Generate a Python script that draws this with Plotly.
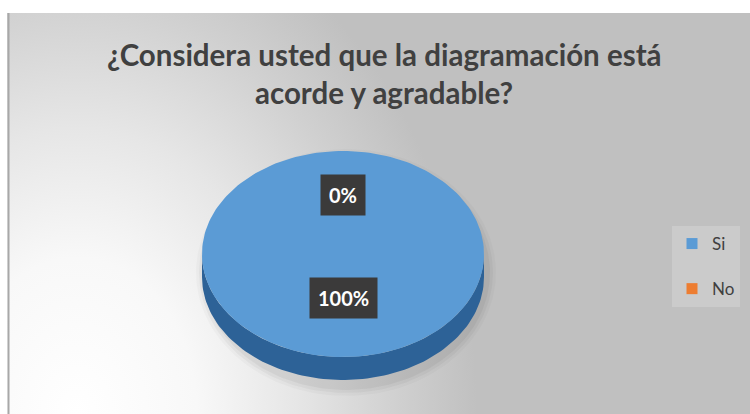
import base64
import numpy as np
import plotly.graph_objects as go

# ---------------- data ----------------
categories = ["Si", "No"]
values = [100, 0]
label_texts = ["100%", "0%"]
title_lines = ["¿Considera usted que la diagramación está", "acorde y agradable?"]

# ---------------- style / geometry ----------------
W, H = 750, 414
top_colors = ["#5b9bd5", "#ed7d31"]
side_colors = ["#2d6297", "#b0561c"]
CX, CY, RX, RY, DEPTH = 343, 414 - 254, 141, 103, 23
LABEL_K, LABEL_DY = 0.5, 8
N = 200

fig = go.Figure()


def arc(a, b, dy=0.0):
    t = np.linspace(a, b, max(2, int(N * (b - a) / (2 * np.pi)) + 2))
    return CX + RX * np.sin(t), CY + RY * np.cos(t) + dy


# soft shadow under the pie (offset downwards)
ts = np.linspace(0, 2 * np.pi, 200)
for grow, alpha in [(9, 0.025), (6, 0.035), (3, 0.045)]:
    fig.add_trace(go.Scatter(
        x=CX + 3 + (RX + grow) * np.sin(ts),
        y=CY - DEPTH / 2 - 7 + (RY + DEPTH / 2 + grow) * np.cos(ts),
        mode="lines", fill="toself", line=dict(width=0),
        fillcolor=f"rgba(0,0,0,{alpha})", hoverinfo="skip", showlegend=False))

total = float(sum(values))
angles = []
start = 0.0
for v in values:
    end = start + 2 * np.pi * v / total
    angles.append((start, end))
    start = end

# side walls (visible lower half: from pi/2 to 3pi/2 clockwise from top)
for (a, b), col in zip(angles, side_colors):
    lo, hi = max(a, np.pi / 2), min(b, 3 * np.pi / 2)
    if hi > lo:
        x1, y1 = arc(lo, hi)
        x2, y2 = arc(lo, hi, -DEPTH)
        fig.add_trace(go.Scatter(
            x=np.concatenate([x1, x2[::-1]]), y=np.concatenate([y1, y2[::-1]]),
            mode="lines", fill="toself", line=dict(width=0), fillcolor=col,
            hoverinfo="skip", showlegend=False))

# top faces
for (a, b), col, cat in zip(angles, top_colors, categories):
    if b > a:
        xa, ya = arc(a, b)
        fig.add_trace(go.Scatter(
            x=np.concatenate([[CX], xa, [CX]]), y=np.concatenate([[CY], ya, [CY]]),
            mode="lines", fill="toself", line=dict(width=0), fillcolor=col,
            name=cat, hoverinfo="name", showlegend=False))

# legend entries
for cat, col in zip(categories, top_colors):
    fig.add_trace(go.Scatter(
        x=[None], y=[None], mode="markers", name=cat, legendgroup=cat,
        marker=dict(symbol="square", size=11, color=col), showlegend=True))

# data labels
for (a, b), txt in zip(angles, label_texts):
    m = (a + b) / 2
    lx = CX + LABEL_K * RX * np.sin(m)
    ly = CY + LABEL_K * RY * np.cos(m) + LABEL_DY
    fig.add_annotation(x=lx, y=ly, text=f"<b>{txt}</b>", showarrow=False,
                       font=dict(family="Lato", size=20, color="white"),
                       bgcolor="#3b3a3a", borderpad=8, xanchor="center", yanchor="middle")

# title
for txt, yy in zip(title_lines, [414 - 54, 414 - 92]):
    fig.add_annotation(x=384, y=yy, text=f"<b>{txt}</b>", showarrow=False,
                       font=dict(family="Lato", size=29.5, color="#404040"),
                       xanchor="center", yanchor="middle")

# background gradient
bw, bh = W - 7, H - 13
svg = f'''<svg xmlns="http://www.w3.org/2000/svg" width="{bw}" height="{bh}" viewBox="0 0 {bw} {bh}">
<defs><radialGradient id="g" gradientUnits="userSpaceOnUse" cx="70" cy="{bh}" r="400"
 gradientTransform="translate(70 {bh}) scale(1 1.3) translate(-70 -{bh})">
<stop offset="0" stop-color="#ffffff"/>
<stop offset="0.3" stop-color="#f8f8f8"/>
<stop offset="0.55" stop-color="#e6e6e6"/>
<stop offset="0.8" stop-color="#d0d0d0"/>
<stop offset="1" stop-color="#c0c0c0"/>
</radialGradient></defs>
<rect width="{bw}" height="{bh}" fill="url(#g)"/></svg>'''
src = "data:image/svg+xml;base64," + base64.b64encode(svg.encode()).decode()

fig.update_layout(
    width=W, height=H, autosize=False,
    margin=dict(l=0, r=0, t=0, b=0),
    paper_bgcolor="white", plot_bgcolor="rgba(0,0,0,0)",
    xaxis=dict(range=[0, W], visible=False, fixedrange=True),
    yaxis=dict(range=[0, H], visible=False, fixedrange=True),
    images=[dict(source=src, xref="paper", yref="paper", x=7 / W, y=1 - 13 / H,
                 sizex=bw / W, sizey=bh / H, xanchor="left", yanchor="top",
                 sizing="stretch", layer="below")],
    shapes=[dict(type="line", xref="x", yref="y", x0=8.5, x1=8.5, y0=0, y1=H - 13,
                 line=dict(color="#a8a8a8", width=2))],
    legend=dict(x=672 / W, y=1 - 226 / H, xanchor="left", yanchor="top",
                bgcolor="rgba(255,255,255,0.18)", font=dict(family="Lato", size=17, color="#404040"),
                tracegroupgap=20, itemwidth=30),
    showlegend=True,
)

fig.write_html("out.html", config=dict(displayModeBar=False),
               post_script="document.body.style.margin='0';document.body.style.overflow='hidden';")
